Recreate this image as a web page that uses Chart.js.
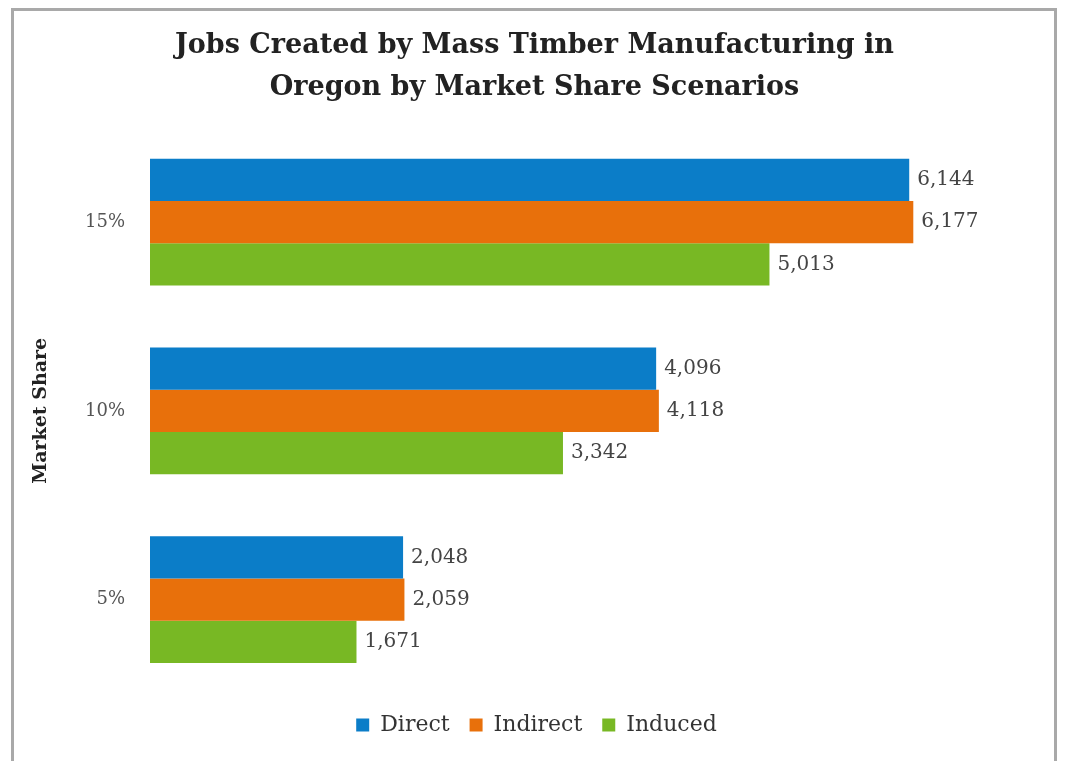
<!DOCTYPE html>
<html>
<head>
<meta charset="utf-8">
<script src="https://cdn.jsdelivr.net/npm/chart.js@4"></script>
<style>
    html, body { margin: 0; padding: 0; background: #fff; overflow: hidden; }
    #wrap { position: absolute; left: 0; top: 0; width: 1065px; height: 761px; }
    #frame {
        position: absolute; left: 11px; top: 8px; width: 1040px; height: 800px;
        border: 3px solid #a9a9a9; pointer-events: none;
    }
</style>
</head>
<body>
<div id="wrap">
    <canvas id="chartBar" width="1065" height="761"></canvas>
    <div id="frame"></div>
</div>
<script>
// Datos del gráfico
const categorias = ['15%', '10%', '5%'];
const direct = [6144, 4096, 2048];
const indirect = [6177, 4118, 2059];
const induced = [5013, 3342, 1671];
const serieNombres = ['Direct', 'Indirect', 'Induced'];
const colores = ['#0b7dc8', '#e8700b', '#78b824'];
const FONT = "'DejaVu Serif', serif";

// Etiquetas de valor al final de cada barra
const valueLabels = {
    id: 'valueLabels',
    afterDatasetsDraw(chart) {
        const ctx = chart.ctx;
        ctx.save();
        ctx.font = `20px ${FONT}`;
        ctx.fillStyle = '#444';
        ctx.textAlign = 'left';
        ctx.textBaseline = 'middle';
        chart.data.datasets.forEach((ds, i) => {
            chart.getDatasetMeta(i).data.forEach((bar, j) => {
                ctx.fillText(ds.data[j].toLocaleString('en-US'), bar.x + 8, bar.y);
            });
        });
        ctx.restore();
    }
};

// Centrar título y leyenda sobre el marco (no sobre el área con padding)
const recentrar = {
    id: 'recentrar',
    beforeDraw(chart) {
        chart.titleBlock.left = 54;
        chart.titleBlock.right = 1015;
        chart.legend.left = 58;
        chart.legend.right = 1015;
    }
};

const ctx = document.getElementById('chartBar').getContext('2d');
new Chart(ctx, {
    type: 'bar',
    data: {
        labels: categorias,
        datasets: [direct, indirect, induced].map((valores, i) => ({
            label: serieNombres[i],
            data: valores,
            backgroundColor: colores[i],
            barPercentage: 1.0,
            categoryPercentage: 0.672
        }))
    },
    options: {
        indexAxis: 'y',
        responsive: false,
        animation: false,
        layout: { padding: { left: 28, right: 50, top: 0, bottom: 15 } },
        plugins: {
            title: {
                display: true,
                text: ['Jobs Created by Mass Timber Manufacturing in', 'Oregon by Market Share Scenarios'],
                color: '#222',
                font: { family: FONT, size: 27, weight: 'bold', lineHeight: 1.55 },
                padding: { top: 25, bottom: 19 }
            },
            legend: {
                display: true,
                position: 'bottom',
                labels: {
                    color: '#333',
                    font: { family: FONT, size: 22 },
                    boxWidth: 13,
                    boxHeight: 13,
                    padding: 20
                }
            },
            tooltip: { enabled: false }
        },
        scales: {
            x: { display: false, min: 0, max: 7000 },
            y: {
                grid: { display: false },
                border: { display: false },
                ticks: { color: '#555', font: { family: FONT, size: 18 }, padding: 17 },
                title: {
                    display: true,
                    text: 'Market Share',
                    color: '#222',
                    font: { family: FONT, size: 19, weight: 'bold' },
                    padding: { top: 2, bottom: 0 }
                },
                afterFit(scale) { scale.width = 122; }
            }
        }
    },
    plugins: [valueLabels, recentrar]
});
</script>
</body>
</html>
